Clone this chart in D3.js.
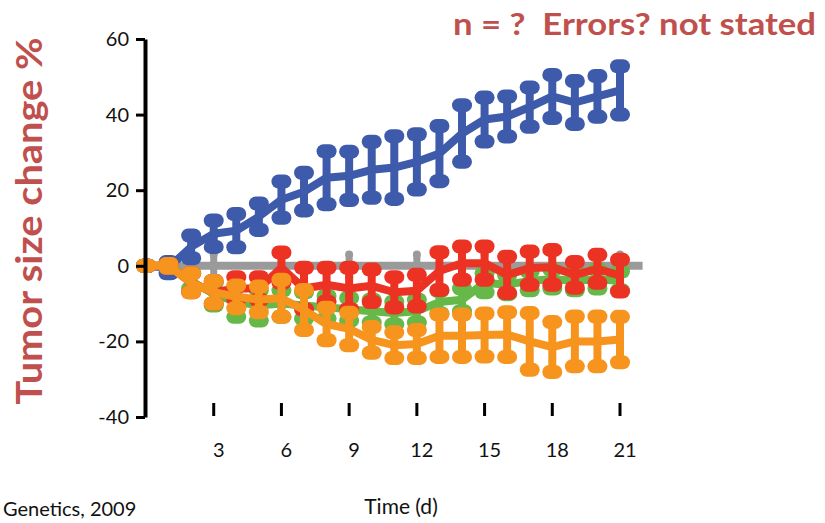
<!DOCTYPE html>
<html>
<head>
<meta charset="utf-8">
<script src="https://cdn.jsdelivr.net/npm/d3@7"></script>
<style>
  body { margin: 0; background: #fff; }
  svg { display: block; }
  .tick-label { font-family: Lato, "Open Sans", sans-serif; font-size: 20px; fill: #111; }
  .red-note { font-family: Lato, "Open Sans", sans-serif; font-weight: bold; fill: #c0504d; white-space: pre; }
</style>
</head>
<body>
<svg width="825" height="523"></svg>
<script>
var days = [0, 1, 2, 3, 4, 5, 6, 7, 8, 9, 10, 11, 12, 13, 14, 15, 16, 17, 18, 19, 20, 21];

var blueMean = [0, -0.5, 5, 8.5, 9.3, 13, 17.5, 19.6, 23.3, 23.8, 25.4, 26, 27.5, 29.7, 35, 38.7, 39.5, 42, 44.8, 43.2, 44.8, 46.4];
var blueErr  = [0, 1.5, 3, 3.5, 4.4, 3.5, 4.8, 5, 7, 6.4, 7.4, 8.3, 7.3, 7.3, 7.5, 5.8, 5.3, 5.2, 5.7, 5.7, 5.4, 6.4];

var greenMean = [0, 0, -4, -7.5, -9.5, -10.5, -10, -10.5, -11, -11.5, -12, -12.5, -12, -9.6, -9, -4.5, -5, -4, -3.5, -4, -3.5, -4];
var greenErr  = [0, 0.5, 2, 3, 4, 4, 3.5, 3.5, 3, 3, 3, 3, 3, 3, 3, 2.5, 2.5, 2.5, 2.5, 2.5, 2.5, 2.5];

var redMean = [0, 0, -4.5, -7, -6, -6, -0.5, -6, -5, -6, -5.3, -7, -6.6, -1.4, 0.7, 0.7, -2.4, -0.6, -0.4, -2.4, -0.8, -2.6];
var redErr  = [0, 0.5, 2.5, 3, 3, 3, 4, 5.5, 4.5, 5.5, 4.3, 4, 4.2, 5, 4.4, 4.4, 4.8, 4.4, 4.6, 3.4, 3.7, 4.2];

var orangeMean = [0, 0, -4.5, -7, -8.2, -8.9, -8.6, -11.7, -15.4, -16.7, -19.6, -21, -20.7, -18.5, -18.5, -18.3, -18.2, -20, -21.5, -20, -20, -19.5];
var orangeErr  = [0, 0.5, 2.5, 3, 3, 3.4, 4.9, 5.3, 4.3, 4.3, 3.4, 3.4, 3.7, 5.6, 5.6, 5.7, 5.9, 7.5, 6.6, 6.6, 6.6, 6];

// control group: flat line, small bars every 3 days
var controlDays = [0, 3, 6, 9, 12, 15, 18, 21, 22];
var controlMean = [0, 0, 0, 0, 0, 0, 0, 0, 0];
var controlErr  = [0, 3, 3, 3, 3, 3, 3, 3, 0];

var yTicks = [-40, -20, 0, 20, 40, 60];
var xTicks = [3, 6, 9, 12, 15, 18, 21];

var svg = d3.select("svg");

var x = d3.scaleLinear().domain([0, 21]).range([146, 620]);
var y = d3.scaleLinear().domain([-40, 60]).range([417, 39]);

function makeSeries(dd, mean, err) {
  return dd.map(function(d, i) { return { day: d, mean: mean[i], err: err[i] }; });
}

var series = [
  { color: "#9a9a9a", width: 8, bar: 7, cap: 8, capLen: 0, data: makeSeries(controlDays, controlMean, controlErr) },
  { color: "#3d5aab", width: 8, bar: 8, cap: 14, capLen: 3, data: makeSeries(days, blueMean, blueErr) },
  { color: "#66b848", width: 8, bar: 8, cap: 14, capLen: 3, data: makeSeries(days, greenMean, greenErr) },
  { color: "#ec3223", width: 8, bar: 8, cap: 14, capLen: 3, data: makeSeries(days, redMean, redErr) },
  { color: "#f7941e", width: 8, bar: 8, cap: 14, capLen: 3, data: makeSeries(days, orangeMean, orangeErr) }
];

var line = d3.line()
    .x(function(d) { return x(d.day); })
    .y(function(d) { return y(d.mean); });

series.forEach(function(s) {
  var g = svg.append("g").attr("class", "series");

  g.append("path")
      .datum(s.data)
      .attr("d", line)
      .attr("fill", "none")
      .attr("stroke", s.color)
      .attr("stroke-width", s.width)
      .attr("stroke-linejoin", "round");

  var bars = g.selectAll("g.bar")
      .data(s.data.filter(function(d) { return d.err > 0 || s.capLen > 0; }))
      .enter()
      .append("g")
      .attr("class", "bar");

  bars.append("line")
      .attr("x1", function(d) { return x(d.day); })
      .attr("x2", function(d) { return x(d.day); })
      .attr("y1", function(d) { return y(d.mean + d.err); })
      .attr("y2", function(d) { return y(d.mean - d.err); })
      .attr("stroke", s.color)
      .attr("stroke-width", s.bar);

  [1, -1].forEach(function(sign) {
    bars.append("line")
        .attr("x1", function(d) { return x(d.day) - s.capLen; })
        .attr("x2", function(d) { return x(d.day) + s.capLen; })
        .attr("y1", function(d) { return y(d.mean + sign * d.err); })
        .attr("y2", function(d) { return y(d.mean + sign * d.err); })
        .attr("stroke", s.color)
        .attr("stroke-width", s.cap)
        .attr("stroke-linecap", "round");
  });
});

// y axis: thick black line with short ticks on the left
var yAxis = d3.axisLeft(y)
    .tickValues(yTicks)
    .tickFormat(function(d) { return String(d); })
    .tickSize(9)
    .tickPadding(7)
    .tickSizeOuter(0);
var ya = svg.append("g")
    .attr("transform", "translate(145,0)")
    .call(yAxis);
ya.select(".domain").attr("stroke", "#000").attr("stroke-width", 4);
ya.selectAll(".tick line").attr("stroke", "#000").attr("stroke-width", 3);
ya.selectAll(".tick text")
    .attr("class", "tick-label")
    .attr("font-family", null)
    .attr("font-size", null);

// x axis: no line, only short vertical marks and labels below
var xa = svg.append("g");
xa.selectAll("line")
    .data(xTicks)
    .enter()
    .append("line")
    .attr("x1", function(d) { return x(d); })
    .attr("x2", function(d) { return x(d); })
    .attr("y1", 403)
    .attr("y2", 416)
    .attr("stroke", "#000")
    .attr("stroke-width", 3);
xa.selectAll("text")
    .data(xTicks)
    .enter()
    .append("text")
    .attr("class", "tick-label")
    .attr("x", function(d) { return x(d) + 5; })
    .attr("y", 457)
    .attr("text-anchor", "middle")
    .text(function(d) { return d; });

svg.append("text")
    .attr("class", "tick-label")
    .attr("x", 401)
    .attr("y", 514)
    .attr("text-anchor", "middle")
    .style("font-size", "21px")
    .text("Time (d)");

svg.append("text")
    .attr("class", "tick-label")
    .attr("x", 3)
    .attr("y", 516)
    .text("Genetics, 2009");

svg.append("text")
    .attr("class", "red-note")
    .attr("transform", "translate(42,221) rotate(-90)")
    .attr("text-anchor", "middle")
    .attr("font-size", 36)
    .attr("textLength", 367)
    .attr("lengthAdjust", "spacingAndGlyphs")
    .text("Tumor size change %");

svg.append("text")
    .attr("class", "red-note")
    .attr("x", 453)
    .attr("y", 35)
    .attr("font-size", 30)
    .attr("textLength", 363)
    .attr("lengthAdjust", "spacingAndGlyphs")
    .text("n = ?  Errors? not stated");
</script>
</body>
</html>
